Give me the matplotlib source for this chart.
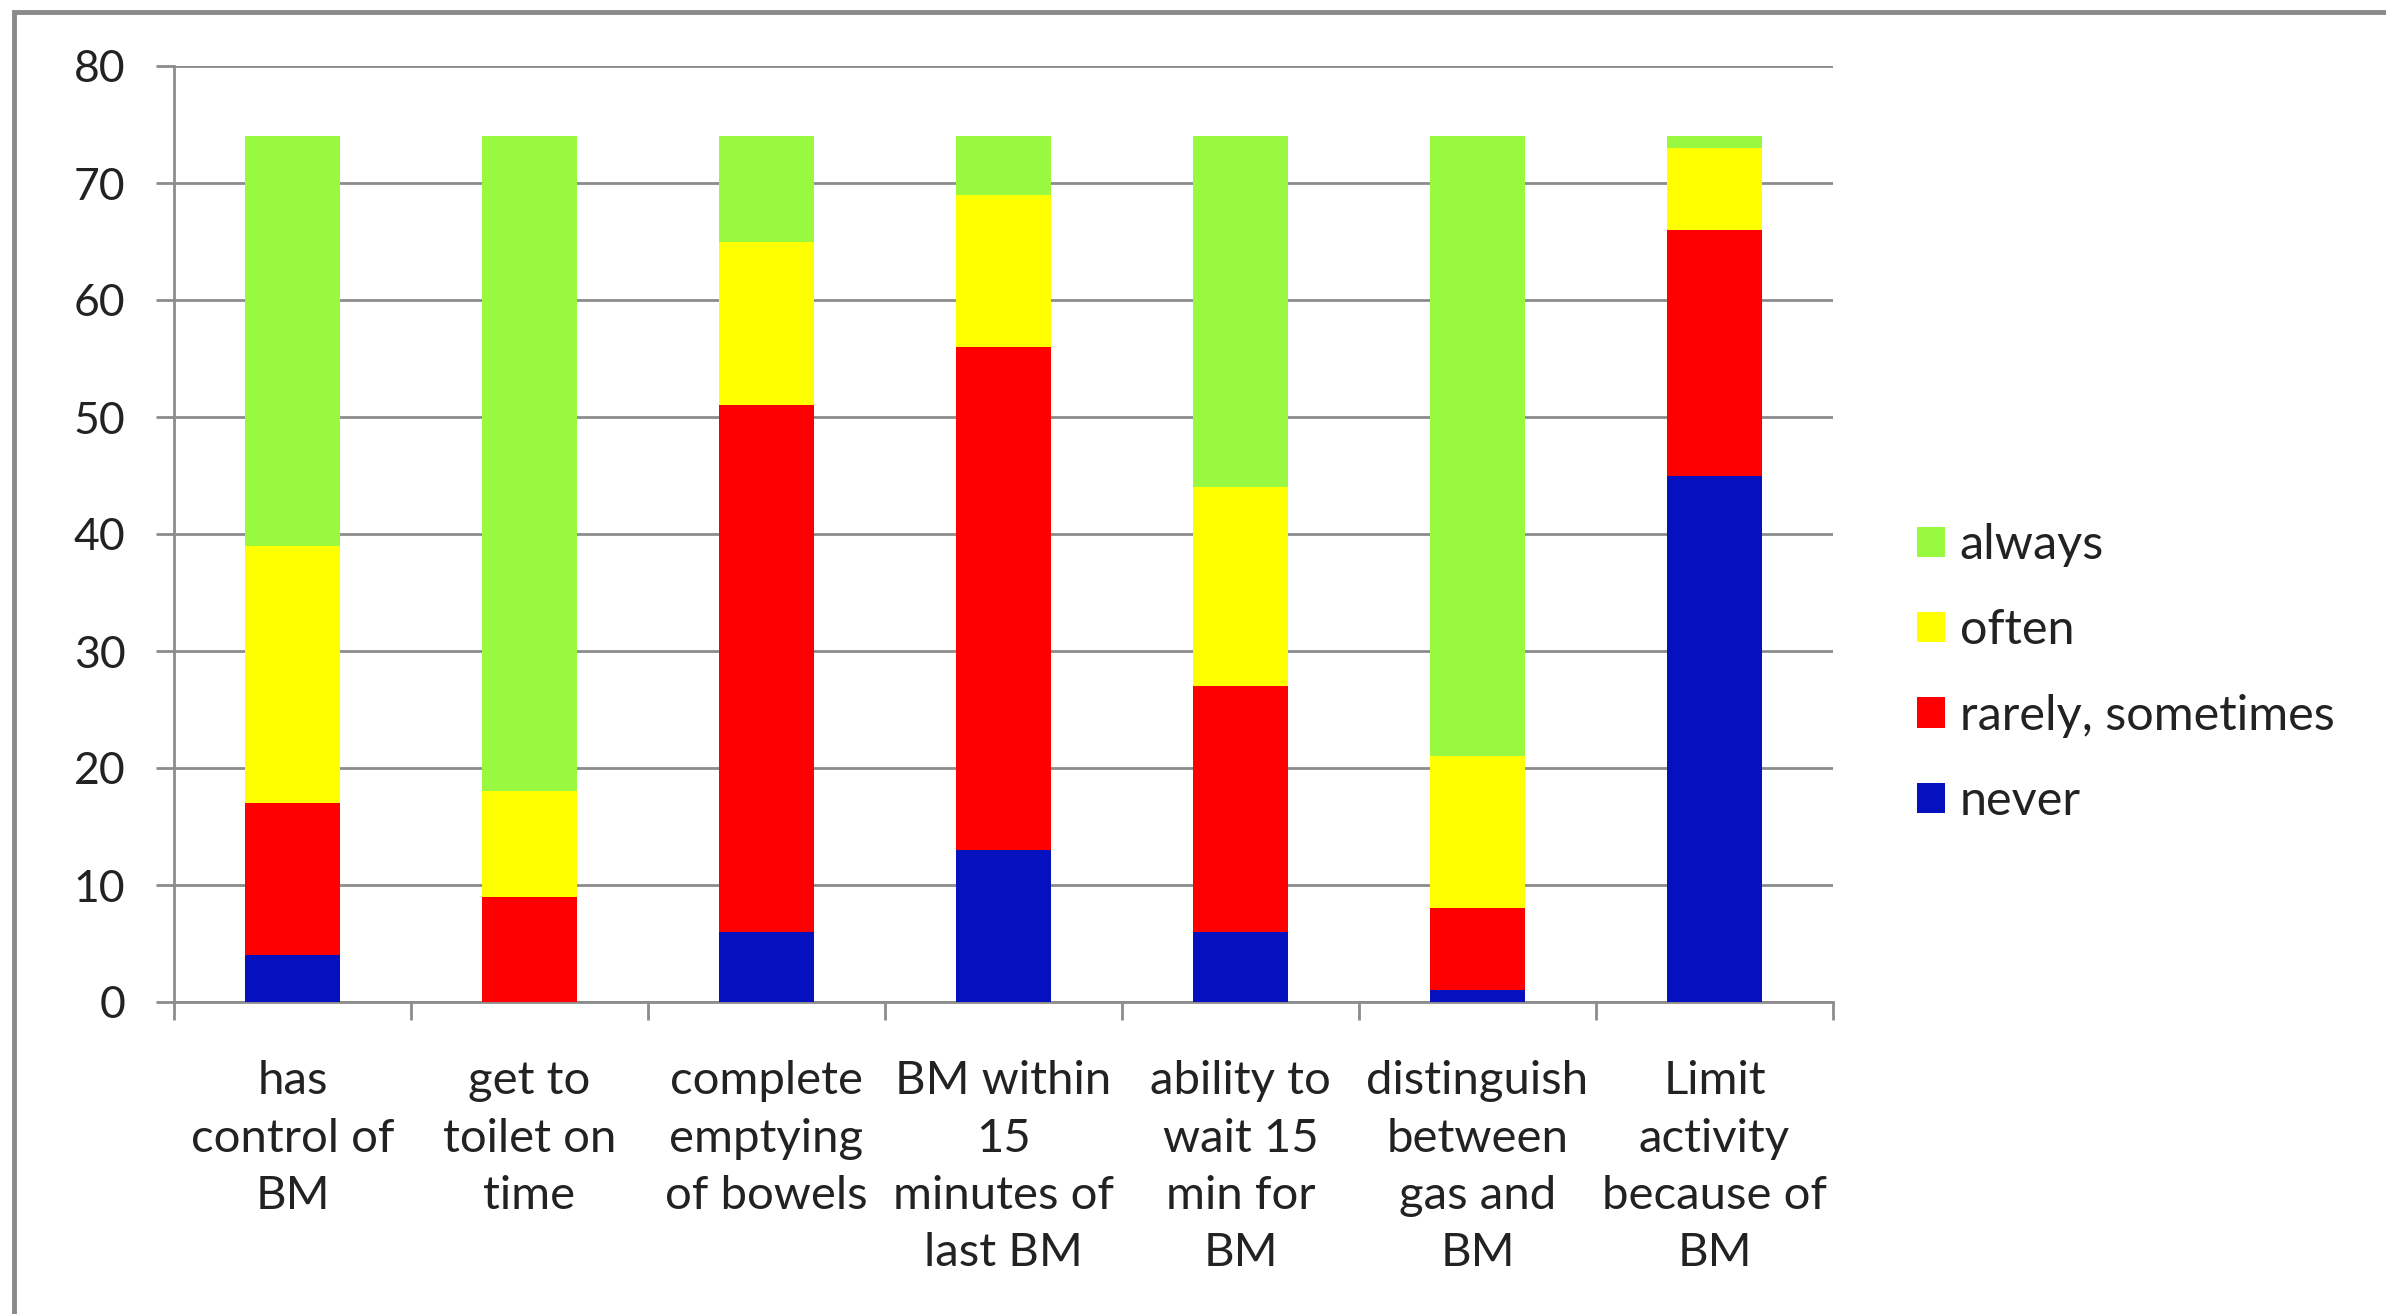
import matplotlib
matplotlib.use("Agg")
import matplotlib.pyplot as plt
import numpy as np
from matplotlib.patches import Rectangle

categories = ["has\ncontrol of\nBM", "get to\ntoilet on\ntime", "complete\nemptying\nof bowels",
              "BM within\n15\nminutes of\nlast BM", "ability to\nwait 15\nmin for\nBM",
              "distinguish\nbetween\ngas and\nBM", "Limit\nactivity\nbecause of\nBM"]
never = [4, 0, 6, 13, 6, 1, 45]
rarely_sometimes = [13, 9, 45, 43, 21, 7, 21]
often = [22, 9, 14, 13, 17, 13, 7]
always = [35, 56, 9, 5, 30, 53, 1]
series_names = ["never", "rarely, sometimes", "often", "always"]
series_colors = ["#0510BE", "#FF0000", "#FFFF00", "#99F940"]
y_ticks = [0, 10, 20, 30, 40, 50, 60, 70, 80]

plt.rcParams['font.family'] = ['Lato', 'DejaVu Sans']
W, H = 2386, 1314
fig = plt.figure(figsize=(W / 100, H / 100), dpi=100)
fig.patch.set_facecolor("white")

# outer frame (cropped at right and bottom)
fig.add_artist(Rectangle((14 / W, -0.1), 1.2, 1 - 12 / H + 0.1, transform=fig.transFigure,
                         fill=False, edgecolor="#8a8a8a", linewidth=3.5))

ax = fig.add_axes([174 / W, 1 - 1002 / H, (1833 - 174) / W, (1002 - 66) / H])
x = np.arange(len(categories))
bottom = np.zeros(len(categories))
series = [never, rarely_sometimes, often, always]
handles = []
for vals, name, col in zip(series, series_names, series_colors):
    b = ax.bar(x, vals, width=0.4, bottom=bottom, color=col, label=name, zorder=3, linewidth=0)
    handles.append(b)
    bottom += np.array(vals)

ax.set_xlim(-0.5, len(categories) - 0.5)
ax.set_ylim(0, 80)
ax.set_yticks(y_ticks)
ax.yaxis.grid(True, color="#8c8c8c", linewidth=2, zorder=0)
ax.set_axisbelow(True)
for s in ["top", "right"]:
    ax.spines[s].set_visible(False)
for s in ["left", "bottom"]:
    ax.spines[s].set_color("#8c8c8c")
    ax.spines[s].set_linewidth(2)

ax.set_xticks(x)
ax.set_xticklabels(categories, fontsize=34, color="#222222", linespacing=1.45, va="top")
ax.tick_params(axis="x", which="major", length=0, pad=42)
ax.set_xticks(np.arange(-0.5, len(categories)), minor=True)
ax.tick_params(axis="x", which="minor", length=13, width=2, color="#8c8c8c")
ax.tick_params(axis="y", length=13, width=2, color="#8c8c8c", labelsize=32, labelcolor="#222222", pad=22)

leg = fig.legend(handles[::-1], series_names[::-1], loc="center left",
                 bbox_to_anchor=(1917 / W, 1 - 673 / H), frameon=False, fontsize=35,
                 borderpad=0, borderaxespad=0,
                 handlelength=0.58, handleheight=0.58, handletextpad=0.3, labelspacing=0.85,
                 labelcolor="#222222")

fig.savefig("out.png", dpi=100, facecolor="white")
